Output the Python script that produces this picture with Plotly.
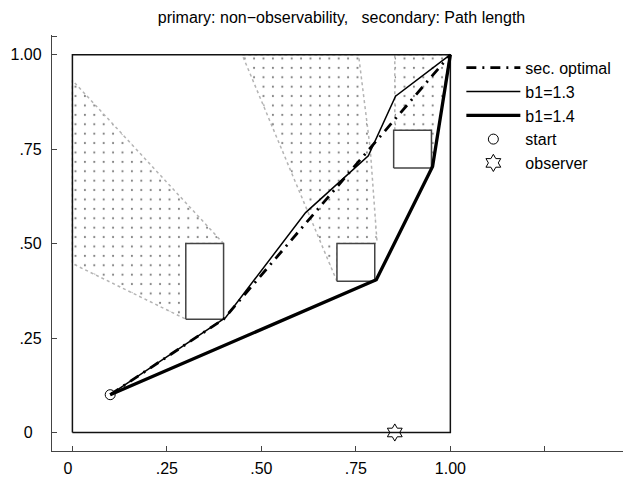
import plotly.graph_objects as go

# ---------------- data ----------------
title_text = "primary: non\u2212observability,   secondary: Path length"

start_x, start_y = [0.10], [0.10]
observer_x, observer_y = [0.853], [0.0]

# obstacles (rectangles)
obs_x0 = [0.30, 0.70, 0.85]
obs_x1 = [0.40, 0.80, 0.95]
obs_y0 = [0.30, 0.40, 0.70]
obs_y1 = [0.50, 0.50, 0.80]

# environment boundary
env_x = [0.0, 1.0, 1.0, 0.0, 0.0]
env_y = [0.0, 0.0, 1.0, 1.0, 0.0]

# shadow (non-observable) regions
shadow1_x = [0.40, 0.00, 0.00, 0.30, 0.30, 0.40]
shadow1_y = [0.50, 0.932, 0.447, 0.30, 0.50, 0.50]
shadow2_x = [0.70, 0.449, 0.757, 0.788, 0.806, 0.80, 0.70, 0.70]
shadow2_y = [0.40, 1.00, 1.00, 0.751, 0.504, 0.50, 0.50, 0.40]
shadow3_x = [0.853, 0.853, 0.997, 0.954, 0.95, 0.95, 0.853]
shadow3_y = [0.80, 1.00, 1.00, 0.705, 0.70, 0.80, 0.80]

# paths
sec_opt_x = [0.10, 0.40, 1.00]
sec_opt_y = [0.10, 0.30, 1.00]
b13_x = [0.10, 0.405, 0.617, 0.783, 0.855, 1.00]
b13_y = [0.10, 0.304, 0.582, 0.732, 0.890, 1.00]
b14_x = [0.10, 0.804, 0.953, 1.00]
b14_y = [0.10, 0.404, 0.704, 1.00]

x_tickvals = [0, 0.25, 0.5, 0.75, 1.0, 1.25]
x_ticktext = ["0\u00a0\u00a0", ".25", ".50", ".75", "1.00", ""]
y_tickvals = [0, 0.25, 0.5, 0.75, 1.0, 1.049]
y_ticktext = ["0\u00a0\u00a0", ".25", ".50", ".75", "1.00", ""]

# ---------------- figure ----------------
FONT = "Liberation Sans, Arial, Helvetica, sans-serif"
# the page body adds an 8px offset; the figure is sized to compensate
PAGE_OFF = 8
FIG_W, FIG_H = 631 - PAGE_OFF, 481 - PAGE_OFF

fig = go.Figure()

for sx, sy in [(shadow1_x, shadow1_y), (shadow2_x, shadow2_y), (shadow3_x, shadow3_y)]:
    fig.add_trace(go.Scatter(
        x=sx, y=sy, mode="lines", fill="toself",
        fillcolor="rgba(255,255,255,0)",
        fillpattern=dict(shape=".", size=9.4, solidity=0.04, fgcolor="#000",
                         bgcolor="rgba(255,255,255,0)"),
        line=dict(color="#b4b4b4", width=1.5, dash="dot"),
        showlegend=False, hoverinfo="skip"))

fig.add_trace(go.Scatter(x=env_x, y=env_y, mode="lines",
                         line=dict(color="#111", width=1.5),
                         showlegend=False, hoverinfo="skip"))

for x0, x1, y0, y1 in zip(obs_x0, obs_x1, obs_y0, obs_y1):
    fig.add_trace(go.Scatter(
        x=[x0, x1, x1, x0, x0], y=[y0, y0, y1, y1, y0], mode="lines",
        fill="toself", fillcolor="white",
        line=dict(color="#444", width=1.5),
        showlegend=False, hoverinfo="skip"))

fig.add_trace(go.Scatter(x=sec_opt_x, y=sec_opt_y, mode="lines", name="sec. optimal",
                         legendgroup="a",
                         line=dict(color="black", width=2.8, dash="10px,6px,2px,6px")))
fig.add_trace(go.Scatter(x=b13_x, y=b13_y, mode="lines", name="b1=1.3",
                         legendgroup="b",
                         line=dict(color="black", width=1.5)))
fig.add_trace(go.Scatter(x=b14_x, y=b14_y, mode="lines", name="b1=1.4",
                         legendgroup="c",
                         line=dict(color="black", width=3.3)))
fig.add_trace(go.Scatter(x=start_x, y=start_y, mode="markers", name="start",
                         legendgroup="d",
                         marker=dict(symbol="circle-open", size=10, color="black",
                                     line=dict(width=1))))
fig.add_trace(go.Scatter(x=observer_x, y=observer_y, mode="markers", name="observer",
                         legendgroup="e",
                         marker=dict(symbol="hexagram-open", size=13, color="black",
                                     line=dict(width=1))))

axis_common = dict(showgrid=False, zeroline=False, showline=True, automargin=False,
                   linecolor="#444", linewidth=1.3, ticks="inside", ticklen=5,
                   tickcolor="#444", tickwidth=1.2,
                   tickfont=dict(family=FONT, size=16, color="black"))

fig.update_layout(
    width=FIG_W, height=FIG_H,
    margin=dict(l=52 - PAGE_OFF, r=0, t=35 - PAGE_OFF, b=30, autoexpand=False),
    paper_bgcolor="white", plot_bgcolor="white",
    title=dict(text=title_text, x=0.5, xref="paper", xanchor="center",
               y=1 - (17 - PAGE_OFF) / FIG_H, yref="container", yanchor="middle",
               automargin=False,
               font=dict(family=FONT, size=16, color="black")),
    xaxis=dict(range=[-0.054, 1.478], tickmode="array", tickvals=x_tickvals,
               ticktext=x_ticktext, ticklabelstandoff=3, **axis_common),
    yaxis=dict(range=[-0.049, 1.052], tickmode="array", tickvals=y_tickvals,
               ticktext=y_ticktext, ticklabelstandoff=6, **axis_common),
    legend=dict(x=0.707, xanchor="left", y=0.962, yanchor="top",
                bgcolor="rgba(255,255,255,0)", borderwidth=0,
                font=dict(family=FONT, size=16, color="black"),
                itemwidth=54, traceorder="grouped", tracegroupgap=0),
    showlegend=True,
)

fig.write_html("out.html")
